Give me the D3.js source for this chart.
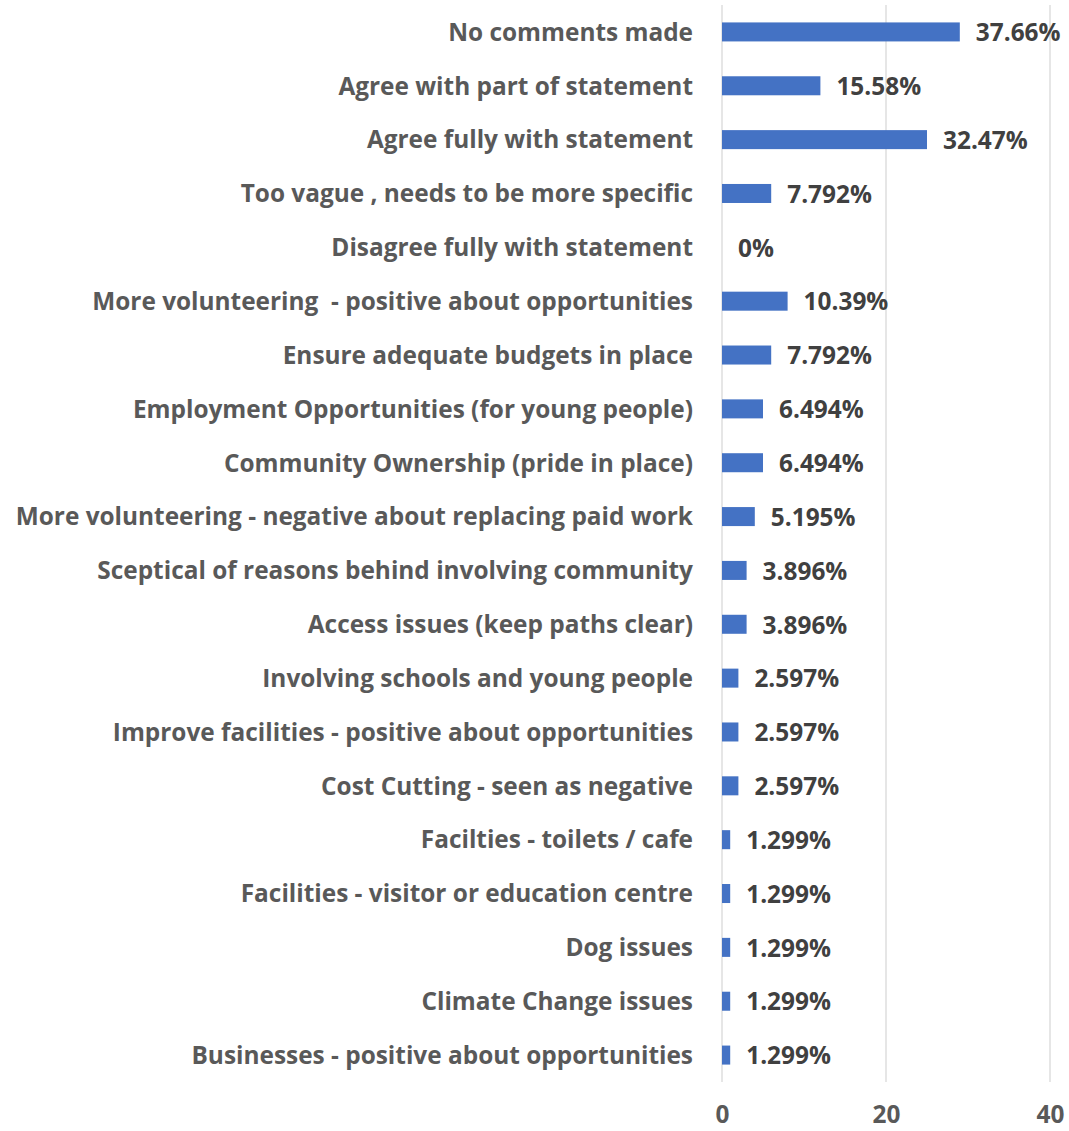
<!DOCTYPE html>
<html>
<head>
<meta charset="utf-8">
<script src="https://cdn.jsdelivr.net/npm/d3@7"></script>
<style>
  html, body { margin: 0; padding: 0; background: #fff; }
  svg { display: block; }
  text { font-family: "Open Sans", sans-serif; font-weight: bold; white-space: pre; }
</style>
</head>
<body>
<svg id="chart" width="1069" height="1131"></svg>
<script>
const categories = [
  "No comments made",
  "Agree with part of statement",
  "Agree fully with statement",
  "Too vague , needs to be more specific",
  "Disagree fully with statement",
  "More volunteering  - positive about opportunities",
  "Ensure adequate budgets in place",
  "Employment Opportunities (for young people)",
  "Community Ownership (pride in place)",
  "More volunteering - negative about replacing paid work",
  "Sceptical of reasons behind involving community",
  "Access issues (keep paths clear)",
  "Involving schools and young people",
  "Improve facilities - positive about opportunities",
  "Cost Cutting - seen as negative",
  "Facilties - toilets / cafe",
  "Facilities - visitor or education centre",
  "Dog issues",
  "Climate Change issues",
  "Businesses - positive about opportunities"
];
const counts = [29, 12, 25, 6, 0, 8, 6, 5, 5, 4, 3, 3, 2, 2, 2, 1, 1, 1, 1, 1];
const percentLabels = ["37.66%", "15.58%", "32.47%", "7.792%", "0%", "10.39%", "7.792%", "6.494%", "6.494%", "5.195%", "3.896%", "3.896%", "2.597%", "2.597%", "2.597%", "1.299%", "1.299%", "1.299%", "1.299%", "1.299%"];
const tickValues = [0, 20, 40];

const svg = d3.select("#chart");
const x0 = 722, x1 = 1050, yTop = 5, yBot = 1082;
const FONT = "'Open Sans', sans-serif";
const FS = 24.4;

const x = d3.scaleLinear().domain([0, 40]).range([x0, x1]);
const y = d3.scaleBand().domain(categories).range([yTop, yBot]).paddingInner(0.647).paddingOuter(0.3235);

// gridlines
svg.append("g").selectAll("line").data(tickValues).join("line")
  .attr("x1", d => x(d)).attr("x2", d => x(d))
  .attr("y1", yTop).attr("y2", yBot)
  .attr("stroke", "#d9d9d9").attr("stroke-width", 1.3);

// bars
svg.append("g").selectAll("rect").data(categories).join("rect")
  .attr("x", x(0))
  .attr("y", d => y(d))
  .attr("width", (d, i) => x(counts[i]) - x(0))
  .attr("height", y.bandwidth())
  .attr("fill", "#4472c4");

// value labels
svg.append("g").selectAll("text").data(categories).join("text")
  .attr("x", (d, i) => x(counts[i]) + 16)
  .attr("y", d => y(d) + y.bandwidth() / 2)
  .attr("dy", "0.38em")
  .attr("fill", "#404040")
  .attr("font-size", FS)
  .text((d, i) => percentLabels[i]);

// category labels
const yAxis = d3.axisLeft(y).tickSize(0).tickPadding(29);
const ya = svg.append("g").attr("transform", `translate(${x0},0)`).call(yAxis);
ya.select(".domain").remove();
ya.selectAll("text").attr("fill", "#595959").attr("font-size", FS).attr("dy", "0.36em")
  .style("font-family", FONT).style("font-weight", "bold");

// x axis
const xAxis = d3.axisBottom(x).tickValues(tickValues).tickSize(0).tickPadding(0);
const xa = svg.append("g").attr("transform", `translate(0,1123)`).call(xAxis);
xa.select(".domain").remove();
xa.selectAll("text").attr("fill", "#595959").attr("font-size", FS).attr("dy", "0")
  .style("font-family", FONT).style("font-weight", "bold");
</script>
</body>
</html>
